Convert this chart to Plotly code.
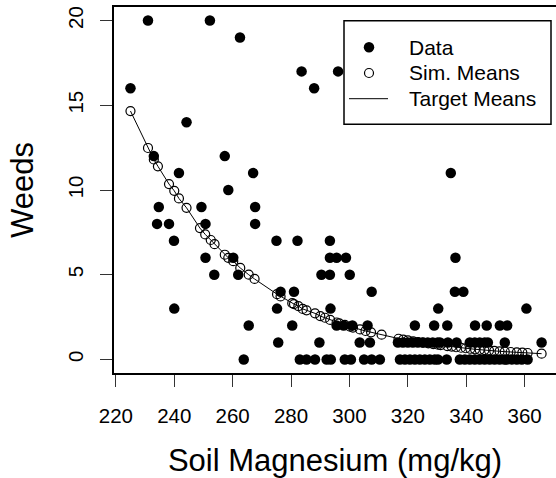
import plotly.graph_objects as go

# Observed weed counts against soil magnesium
magnesium = [
    225.0, 231.0, 233.0, 234.7, 234.1, 238.2, 239.9, 240.0, 241.6, 244.2,
    249.3, 250.7, 250.7, 252.2, 253.7, 257.3, 258.5, 260.2, 261.9, 262.5,
    263.8, 265.5, 267.0, 267.7, 267.7, 275.0, 275.2, 275.6, 276.4, 280.4,
    281.0, 282.2, 283.0, 283.6, 285.3, 287.9, 288.2, 289.7, 290.4, 292.2,
    293.3, 293.3, 293.3, 293.5, 293.6, 295.6, 295.6, 296.1, 298.0, 298.4,
    298.8, 300.1, 300.5, 301.0, 303.5, 305.0, 306.2, 307.0, 307.6, 307.6,
    310.4,
    317.3, 319.0, 320.7, 322.4, 324.1, 325.8, 327.5, 329.2, 330.3, 333.3,
    337.8, 339.5, 341.2, 342.9, 344.6, 346.3, 348.0, 349.7, 351.4, 353.1,
    353.9, 355.5, 357.3, 359.0, 361.0,
    316.6, 318.3, 320.0, 321.7, 323.4, 325.1, 326.8, 328.5, 330.2, 331.0,
    333.7, 336.7, 341.2, 342.9, 344.6, 346.3, 347.4, 353.2, 365.8,
    322.4, 329.0, 333.5, 343.0, 347.0, 351.5, 354.0,
    330.4, 360.6, 336.1, 339.0, 336.3, 334.7,
]
weeds = [
    16, 20, 12, 9, 8, 8, 7, 3, 11, 14,
    9, 8, 6, 20, 5, 12, 10, 6, 5, 19,
    0, 2, 11, 9, 8, 7, 3, 1, 4, 2,
    4, 7, 0, 17, 0, 16, 0, 1, 5, 0,
    7, 6, 5, 3, 0, 6, 2, 17, 2, 0,
    6, 5, 0, 2, 1, 0, 2, 1, 4, 0,
    0,
    0, 0, 0, 0, 0, 0, 0, 0, 0, 0,
    0, 0, 0, 0, 0, 0, 0, 0, 0, 0,
    0, 0, 0, 0, 0,
    1, 1, 1, 1, 1, 1, 1, 1, 1, 1,
    1, 1, 1, 1, 1, 1, 1, 1, 1,
    2, 2, 2, 2, 2, 2, 2,
    3, 3, 4, 4, 6, 11,
]

# Mean weed counts along the magnesium gradient
mean_magnesium = [
    225.0, 231.0, 233.0, 234.4, 238.2, 240.0, 241.6, 244.2, 248.8, 250.6,
    252.5, 253.8, 257.3, 258.5, 260.2, 262.6, 265.5, 267.5, 275.2, 276.4,
    280.4, 281.0, 282.5, 284.0, 285.3, 288.2, 290.0, 291.6, 293.4, 295.6,
    296.5, 298.4, 300.2, 301.2, 303.6, 305.5, 307.4, 311.0, 316.8, 318.4,
    320.0, 321.8, 323.5, 325.2, 327.0, 328.7, 330.3, 331.2, 333.5, 335.0,
    336.5, 338.2, 339.8, 341.4, 343.0, 344.6, 346.2, 347.8, 349.6, 351.4,
    353.2, 355.2, 357.3, 359.2, 361.0, 365.8,
]
mean_weeds = [
    14.66, 12.48, 11.80, 11.40, 10.35, 9.95, 9.50, 8.95, 7.75, 7.38,
    7.05, 6.80, 6.18, 6.00, 5.80, 5.40, 5.00, 4.75, 3.85, 3.72,
    3.32, 3.27, 3.15, 2.98, 2.90, 2.72, 2.56, 2.46, 2.33, 2.18,
    2.13, 2.04, 1.94, 1.88, 1.77, 1.68, 1.60, 1.46, 1.22, 1.17,
    1.12, 1.07, 1.03, 0.99, 0.95, 0.91, 0.87, 0.85, 0.79, 0.76,
    0.72, 0.69, 0.66, 0.63, 0.60, 0.57, 0.55, 0.53, 0.50, 0.48,
    0.46, 0.44, 0.42, 0.40, 0.38, 0.34,
]

x_ticks = [220, 240, 260, 280, 300, 320, 340, 360]
y_ticks = [0, 5, 10, 15, 20]
legend_labels = ["Data", "Sim. Means", "Target Means"]

FONT = "Liberation Sans, Arial, Helvetica, sans-serif"
W, H = 556, 478
ML, MR, MT, MB = 114, 0, 7, 105
PW, PH = W - ML - MR, H - MT - MB

fig = go.Figure()
fig.add_trace(go.Scatter(
    x=magnesium, y=weeds, mode="markers",
    marker=dict(symbol="circle", size=10.5, color="black", line=dict(width=0)),
    showlegend=False, hoverinfo="skip",
))
fig.add_trace(go.Scatter(
    x=mean_magnesium, y=mean_weeds, mode="lines",
    line=dict(color="black", width=1),
    showlegend=False, hoverinfo="skip",
))
fig.add_trace(go.Scatter(
    x=mean_magnesium, y=mean_weeds, mode="markers",
    marker=dict(symbol="circle-open", size=9, color="black", line=dict(width=1.2, color="black")),
    showlegend=False, hoverinfo="skip",
))


def px(xp):
    return (xp - ML) / PW


def py(yp):
    return (H - MB - yp) / PH


# Legend box, drawn in pixel positions over the plot
shapes = [dict(type="rect", xref="paper", yref="paper",
               x0=px(344), x1=px(551), y0=py(124.3), y1=py(20.7),
               line=dict(color="black", width=1.5), fillcolor="white", layer="above")]
rows = [47.3, 73.0, 98.7]
shapes.append(dict(type="circle", xref="paper", yref="paper",
                   xsizemode="pixel", ysizemode="pixel",
                   xanchor=px(369), yanchor=py(rows[0]),
                   x0=-5.25, x1=5.25, y0=-5.25, y1=5.25,
                   fillcolor="black", line=dict(width=0), layer="above"))
shapes.append(dict(type="circle", xref="paper", yref="paper",
                   xsizemode="pixel", ysizemode="pixel",
                   xanchor=px(369), yanchor=py(rows[1]),
                   x0=-4.5, x1=4.5, y0=-4.5, y1=4.5,
                   fillcolor="rgba(0,0,0,0)", line=dict(width=1.2, color="black"), layer="above"))
shapes.append(dict(type="line", xref="paper", yref="paper",
                   x0=px(349), x1=px(388), y0=py(rows[2]), y1=py(rows[2]),
                   line=dict(color="black", width=1), layer="above"))

annotations = [dict(text=t, xref="paper", yref="paper", x=px(407), y=py(r),
                    xanchor="left", yanchor="middle", showarrow=False,
                    font=dict(family=FONT, size=21, color="black"))
               for t, r in zip(legend_labels, rows)]

fig.update_layout(
    width=W, height=H,
    margin=dict(l=ML, r=MR, t=MT, b=MB, pad=0),
    paper_bgcolor="white", plot_bgcolor="white",
    font=dict(family=FONT, color="black"),
    showlegend=False,
    shapes=shapes, annotations=annotations,
    xaxis=dict(
        range=[219.36, 219.36 + PW / 2.92], tickvals=x_ticks,
        ticks="outside", ticklen=12, tickwidth=1, tickcolor="#333",
        showline=True, linewidth=1.5, linecolor="black", mirror=True,
        showgrid=False, zeroline=False, ticklabelstandoff=12,
        tickfont=dict(family=FONT, size=20.5, color="black"),
        title=dict(text="Soil Magnesium (mg/kg)", font=dict(family=FONT, size=31, color="black"), standoff=24),
        automargin=False,
    ),
    yaxis=dict(
        range=[-0.8, 20.8], tickvals=y_ticks, tickangle=-90,
        ticks="outside", ticklen=12, tickwidth=1, tickcolor="#333",
        showline=True, linewidth=1.5, linecolor="black", mirror=False,
        showgrid=False, zeroline=False, ticklabelstandoff=9,
        tickfont=dict(family=FONT, size=20.5, color="black"),
        title=dict(text="Weeds", font=dict(family=FONT, size=31, color="black"), standoff=21),
        automargin=False,
    ),
)

fig.write_html("out.html")
